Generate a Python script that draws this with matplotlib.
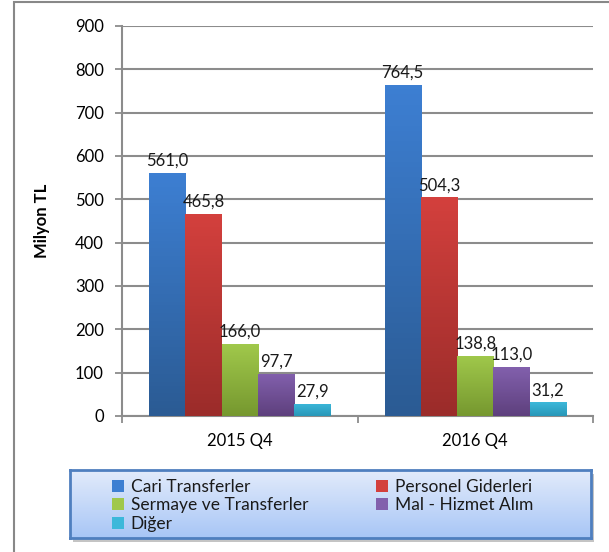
import matplotlib.pyplot as plt
import matplotlib.colors as mc
import numpy as np
from matplotlib.patches import Rectangle

plt.rcParams['font.family'] = ['Lato', 'DejaVu Sans']

quarters = ['2015 Q4', '2016 Q4']
series = ['Cari Transferler', 'Personel Giderleri', 'Sermaye ve Transferler',
          'Mal - Hizmet Alım', 'Diğer']
values = {
    'Cari Transferler': [561.0, 764.5],
    'Personel Giderleri': [465.8, 504.3],
    'Sermaye ve Transferler': [166.0, 138.8],
    'Mal - Hizmet Alım': [97.7, 113.0],
    'Diğer': [27.9, 31.2],
}
yticks = [0, 100, 200, 300, 400, 500, 600, 700, 800, 900]

# top / bottom colour of each bar gradient
tops = ['#3d7fd2', '#d3403d', '#a0c84b', '#8260ad', '#3cb8da']
bottoms = ['#2b5b94', '#9b2c2a', '#76982f', '#5e407d', '#2897b8']

fig = plt.figure(figsize=(6.09, 5.52), dpi=100)
ax = fig.add_axes([122 / 609, 1 - 416 / 552, 471 / 609, 390 / 552])

x = np.arange(len(quarters))
w = 0.154
grid_c = '#8c8c8c'
for i, name in enumerate(series):
    bars = ax.bar(x + (i - 2) * w, values[name], w, color=tops[i], zorder=3)
    cmap = mc.LinearSegmentedColormap.from_list('g%d' % i, [bottoms[i], tops[i]])
    for b, v in zip(bars, values[name]):
        bx, by = b.get_x(), b.get_y()
        im = ax.imshow(np.linspace(0, 1, 64).reshape(-1, 1), cmap=cmap, origin='lower',
                       extent=[bx, bx + b.get_width(), by, by + b.get_height()],
                       aspect='auto', zorder=4)
        im.set_clip_path(b)
        ax.annotate(('%.1f' % v).replace('.', ','), (bx + b.get_width() / 2, v),
                    xytext=(0, 3), textcoords='offset points', ha='center', va='bottom',
                    fontsize=12, color='#1a1a1a', zorder=6)

ax.set_xlim(-0.5, 1.5)
ax.set_ylim(0, 900)
ax.set_yticks(yticks)
ax.set_xticks(x)
ax.set_xticklabels(quarters, fontsize=12)
ax.set_xticks([-0.5, 0.5, 1.5], minor=True)
ax.tick_params(axis='x', which='major', length=0, pad=12)
ax.tick_params(axis='x', which='minor', length=5, color=grid_c, width=1.3)
ax.tick_params(axis='y', length=5, color=grid_c, width=1.3, pad=8, labelsize=12)
ax.yaxis.grid(True, color=grid_c, linewidth=1.5, zorder=0)
ax.set_axisbelow(True)
for s in ['top', 'right']:
    ax.spines[s].set_visible(False)
for s in ['left', 'bottom']:
    ax.spines[s].set_color(grid_c)
    ax.spines[s].set_linewidth(1.5)
ax.set_ylabel('Milyon TL', fontsize=12, fontweight='bold', labelpad=18)

# outer chart frame (only left and top edges visible)
fig.add_artist(Rectangle((14 / 609, -0.1), 1.0, 1.1 - 1.5 / 552, transform=fig.transFigure,
                         fill=False, edgecolor='#888888', linewidth=1.5))

# legend box with gradient fill and a soft shadow
lx0, ly0, lw, lh = 70 / 609, 1 - 538 / 552, 521 / 609, 68 / 552
shadow = fig.add_axes([lx0 + 3 / 609, ly0 - 4 / 552, lw, lh], zorder=-1)
shadow.axis('off')
shadow.add_patch(Rectangle((0, 0), 1, 1, transform=shadow.transAxes,
                           facecolor='#c4c4c4', edgecolor='none'))
lax = fig.add_axes([lx0, ly0, lw, lh], zorder=1)
lcmap = mc.LinearSegmentedColormap.from_list('leg', ['#a8c6f6', '#e2ebfb'])
lax.imshow(np.linspace(0, 1, 64).reshape(-1, 1), cmap=lcmap, origin='lower',
           extent=[0, 1, 0, 1], aspect='auto')
lax.set_xticks([])
lax.set_yticks([])
for s in lax.spines.values():
    s.set_color('#4f7fbf')
    s.set_linewidth(2)

handles = [Rectangle((0, 0), 1, 1, facecolor=c, edgecolor='none') for c in tops]
order = [0, 2, 4, 1, 3]
lax.legend([handles[k] for k in order], [series[k] for k in order], ncol=2,
           loc='upper left', bbox_to_anchor=(0.05, 1.1), frameon=False, fontsize=12.5,
           handlelength=0.7, handleheight=0.7, handletextpad=0.4, labelspacing=0.15,
           columnspacing=3.9, labelcolor='#1a1a1a')

fig.savefig('out.png', dpi=100)
